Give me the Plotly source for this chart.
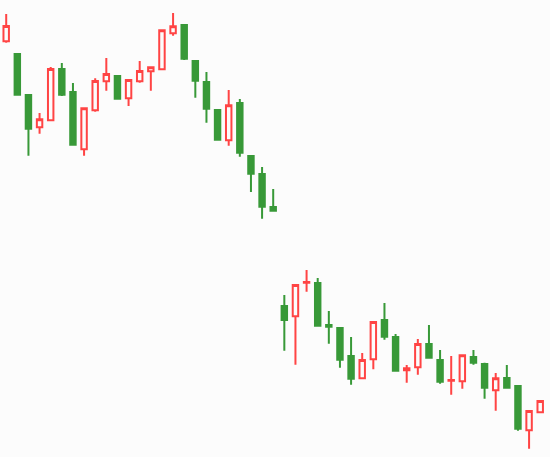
import plotly.graph_objects as go

idx = list(range(49))
opens = [65.87, 64.6, 60.5, 57.27, 57.97, 63.1, 60.8, 55.07, 58.97, 61.87,
         62.4, 60.17, 61.87, 62.87, 63.07, 66.67, 67.5, 63.9, 61.8, 59.0,
         55.97, 59.7, 54.4, 52.6, 49.3, 39.4, 38.37, 41.73, 41.7, 37.5,
         37.2, 34.4, 32.17, 34.07, 38.0, 36.3, 32.97, 33.27, 35.6, 34.0,
         31.93, 31.87, 34.3, 33.6, 30.97, 32.2, 31.4, 26.97, 28.77]
highs = [68.6, 64.6, 60.5, 58.7, 63.3, 63.7, 61.7, 59.17, 62.17, 64.2,
         62.4, 62.0, 63.9, 63.27, 66.97, 68.7, 67.6, 63.9, 62.8, 59.0,
         61.0, 60.1, 54.4, 53.3, 51.1, 40.5, 41.6, 43.0, 42.2, 38.9,
         37.2, 36.3, 34.7, 37.8, 39.7, 36.6, 33.5, 36.1, 37.5, 35.0,
         34.4, 34.47, 35.0, 33.73, 32.7, 33.5, 31.4, 28.9, 29.9]
lows = [65.73, 60.53, 54.43, 56.63, 57.97, 60.4, 55.43, 54.43, 58.83, 60.93,
        60.13, 59.4, 61.73, 60.93, 63.07, 66.43, 64.0, 60.23, 57.73, 56.03,
        55.43, 54.33, 50.8, 48.13, 48.93, 34.93, 33.53, 40.83, 37.33, 35.63,
        33.23, 31.53, 32.17, 33.07, 36.03, 32.93, 31.73, 32.53, 34.23, 31.63,
        30.53, 31.13, 33.53, 30.13, 28.93, 31.23, 26.93, 25.13, 28.77]
closes = [67.4, 60.53, 57.13, 58.07, 63.1, 60.53, 55.53, 59.17, 61.9, 62.6,
          60.13, 62.0, 62.9, 63.27, 66.97, 67.37, 64.13, 61.93, 59.13, 56.03,
          59.47, 54.73, 52.63, 49.33, 48.93, 38.0, 41.5, 41.8, 37.43, 37.33,
          34.03, 32.13, 34.0, 37.8, 36.33, 32.93, 33.17, 35.6, 34.23, 31.83,
          32.0, 34.47, 33.73, 31.23, 32.17, 31.23, 27.13, 28.9, 29.9]

RED = "#ff4444"
GREEN = "#389938"
BG = "#fcfcfc"

fig = go.Figure(go.Candlestick(
    x=idx, open=opens, high=highs, low=lows, close=closes,
    increasing=dict(line=dict(color=RED, width=2), fillcolor=BG),
    decreasing=dict(line=dict(color=GREEN, width=2), fillcolor=GREEN),
    whiskerwidth=0,
    hoverinfo="none",
))
fig.update_layout(
    width=550, height=457,
    margin=dict(l=0, r=0, t=0, b=0),
    paper_bgcolor=BG, plot_bgcolor=BG,
    showlegend=False,
    xaxis=dict(visible=False, range=[-0.557, 48.88], rangeslider=dict(visible=False)),
    yaxis=dict(visible=False, range=[24.3, 70]),
)
fig.write_html(
    "out.html",
    config={"displayModeBar": False},
    post_script="document.body.style.margin='0';document.body.style.overflow='hidden';document.body.style.background='#fcfcfc';",
)
